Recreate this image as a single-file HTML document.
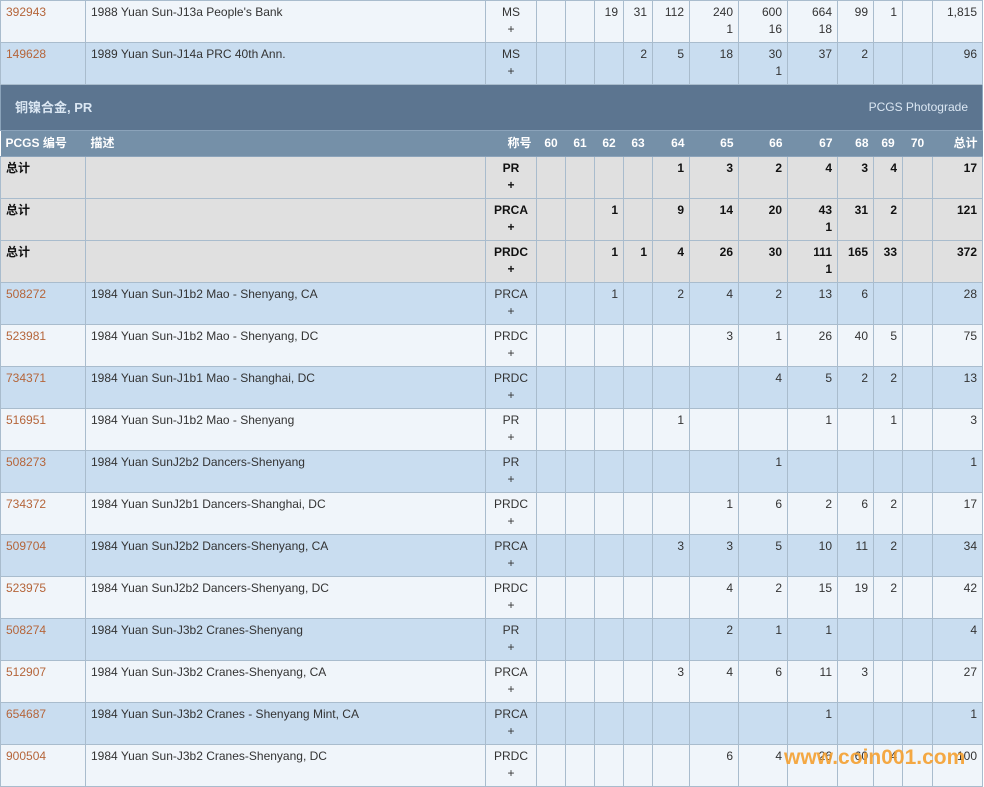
<!DOCTYPE html>
<html><head><meta charset="utf-8"><style>
body{margin:0;background:#fff;width:984px;height:787px;overflow:hidden;position:relative;font-family:"Liberation Sans","Noto Sans CJK SC",sans-serif;font-size:12px;color:#333}
table{border-collapse:collapse;table-layout:fixed;position:absolute;left:0;top:0;width:983px}
td{border:1px solid #a9bccd;vertical-align:top;padding:3px 5px 0 5px;line-height:17px;height:38px;overflow:hidden;white-space:nowrap;text-align:right}
td:nth-child(1),td:nth-child(2){text-align:left}
td:nth-child(3){text-align:center}
tr.l td{background:#f0f5fa}
tr.b td{background:#c9ddf0}
tr.t td{background:#e0e0e0;font-weight:bold;color:#111}
td a{color:#b5653a;text-decoration:none}
tr.s td{background:#5c7590;color:#dbe7f3;height:45px;padding:0 14px;vertical-align:middle;border-color:#8ba3ba}
tr.h td{background:#7590a8;color:#fff;font-weight:bold;height:25px;padding:0 5px;vertical-align:middle;border-color:#8ba3ba;border-left:none;border-right:none}
.wm{position:absolute;left:784px;top:746px;font:bold 21px "Liberation Sans",sans-serif;color:#f5a030;opacity:.9}
</style></head><body>
<table>
<colgroup><col style="width:85px"><col style="width:400px"><col style="width:51px"><col style="width:29px"><col style="width:29px"><col style="width:29px"><col style="width:29px"><col style="width:37px"><col style="width:49px"><col style="width:49px"><col style="width:50px"><col style="width:36px"><col style="width:29px"><col style="width:30px"><col style="width:50px"></colgroup>
<tr class="l"><td><a>392943</a></td><td>1988 Yuan Sun-J13a People's Bank</td><td>MS<br>+</td><td></td><td></td><td>19</td><td>31</td><td>112</td><td>240<br>1</td><td>600<br>16</td><td>664<br>18</td><td>99</td><td>1</td><td></td><td>1,815</td></tr>
<tr class="b"><td><a>149628</a></td><td>1989 Yuan Sun-J14a PRC 40th Ann.</td><td>MS<br>+</td><td></td><td></td><td></td><td>2</td><td>5</td><td>18</td><td>30<br>1</td><td>37</td><td>2</td><td></td><td></td><td>96</td></tr>
<tr class="s"><td colspan="15" style="text-align:left"><span style="font-weight:bold;font-size:13px">铜镍合金, PR</span><span style="float:right">PCGS Photograde</span></td></tr>
<tr class="h"><td>PCGS 编号</td><td>描述</td><td style="text-align:right">称号</td><td style="text-align:center">60</td><td style="text-align:center">61</td><td style="text-align:center">62</td><td style="text-align:center">63</td><td>64</td><td>65</td><td>66</td><td>67</td><td>68</td><td style="text-align:center">69</td><td style="text-align:center">70</td><td>总计</td></tr>
<tr class="t"><td>总计</td><td></td><td>PR<br>+</td><td></td><td></td><td></td><td></td><td>1</td><td>3</td><td>2</td><td>4</td><td>3</td><td>4</td><td></td><td>17</td></tr>
<tr class="t"><td>总计</td><td></td><td>PRCA<br>+</td><td></td><td></td><td>1</td><td></td><td>9</td><td>14</td><td>20</td><td>43<br>1</td><td>31</td><td>2</td><td></td><td>121</td></tr>
<tr class="t"><td>总计</td><td></td><td>PRDC<br>+</td><td></td><td></td><td>1</td><td>1</td><td>4</td><td>26</td><td>30</td><td>111<br>1</td><td>165</td><td>33</td><td></td><td>372</td></tr>
<tr class="b"><td><a>508272</a></td><td>1984 Yuan Sun-J1b2 Mao - Shenyang, CA</td><td>PRCA<br>+</td><td></td><td></td><td>1</td><td></td><td>2</td><td>4</td><td>2</td><td>13</td><td>6</td><td></td><td></td><td>28</td></tr>
<tr class="l"><td><a>523981</a></td><td>1984 Yuan Sun-J1b2 Mao - Shenyang, DC</td><td>PRDC<br>+</td><td></td><td></td><td></td><td></td><td></td><td>3</td><td>1</td><td>26</td><td>40</td><td>5</td><td></td><td>75</td></tr>
<tr class="b"><td><a>734371</a></td><td>1984 Yuan Sun-J1b1 Mao - Shanghai, DC</td><td>PRDC<br>+</td><td></td><td></td><td></td><td></td><td></td><td></td><td>4</td><td>5</td><td>2</td><td>2</td><td></td><td>13</td></tr>
<tr class="l"><td><a>516951</a></td><td>1984 Yuan Sun-J1b2 Mao - Shenyang</td><td>PR<br>+</td><td></td><td></td><td></td><td></td><td>1</td><td></td><td></td><td>1</td><td></td><td>1</td><td></td><td>3</td></tr>
<tr class="b"><td><a>508273</a></td><td>1984 Yuan SunJ2b2 Dancers-Shenyang</td><td>PR<br>+</td><td></td><td></td><td></td><td></td><td></td><td></td><td>1</td><td></td><td></td><td></td><td></td><td>1</td></tr>
<tr class="l"><td><a>734372</a></td><td>1984 Yuan SunJ2b1 Dancers-Shanghai, DC</td><td>PRDC<br>+</td><td></td><td></td><td></td><td></td><td></td><td>1</td><td>6</td><td>2</td><td>6</td><td>2</td><td></td><td>17</td></tr>
<tr class="b"><td><a>509704</a></td><td>1984 Yuan SunJ2b2 Dancers-Shenyang, CA</td><td>PRCA<br>+</td><td></td><td></td><td></td><td></td><td>3</td><td>3</td><td>5</td><td>10</td><td>11</td><td>2</td><td></td><td>34</td></tr>
<tr class="l"><td><a>523975</a></td><td>1984 Yuan SunJ2b2 Dancers-Shenyang, DC</td><td>PRDC<br>+</td><td></td><td></td><td></td><td></td><td></td><td>4</td><td>2</td><td>15</td><td>19</td><td>2</td><td></td><td>42</td></tr>
<tr class="b"><td><a>508274</a></td><td>1984 Yuan Sun-J3b2 Cranes-Shenyang</td><td>PR<br>+</td><td></td><td></td><td></td><td></td><td></td><td>2</td><td>1</td><td>1</td><td></td><td></td><td></td><td>4</td></tr>
<tr class="l"><td><a>512907</a></td><td>1984 Yuan Sun-J3b2 Cranes-Shenyang, CA</td><td>PRCA<br>+</td><td></td><td></td><td></td><td></td><td>3</td><td>4</td><td>6</td><td>11</td><td>3</td><td></td><td></td><td>27</td></tr>
<tr class="b"><td><a>654687</a></td><td>1984 Yuan Sun-J3b2 Cranes - Shenyang Mint, CA</td><td>PRCA<br>+</td><td></td><td></td><td></td><td></td><td></td><td></td><td></td><td>1</td><td></td><td></td><td></td><td>1</td></tr>
<tr class="l"><td><a>900504</a></td><td>1984 Yuan Sun-J3b2 Cranes-Shenyang, DC</td><td>PRDC<br>+</td><td></td><td></td><td></td><td></td><td></td><td>6</td><td>4</td><td>26</td><td>60</td><td>4</td><td></td><td>100</td></tr>
</table>
<div class="wm">www.coin001.com</div>
</body></html>
